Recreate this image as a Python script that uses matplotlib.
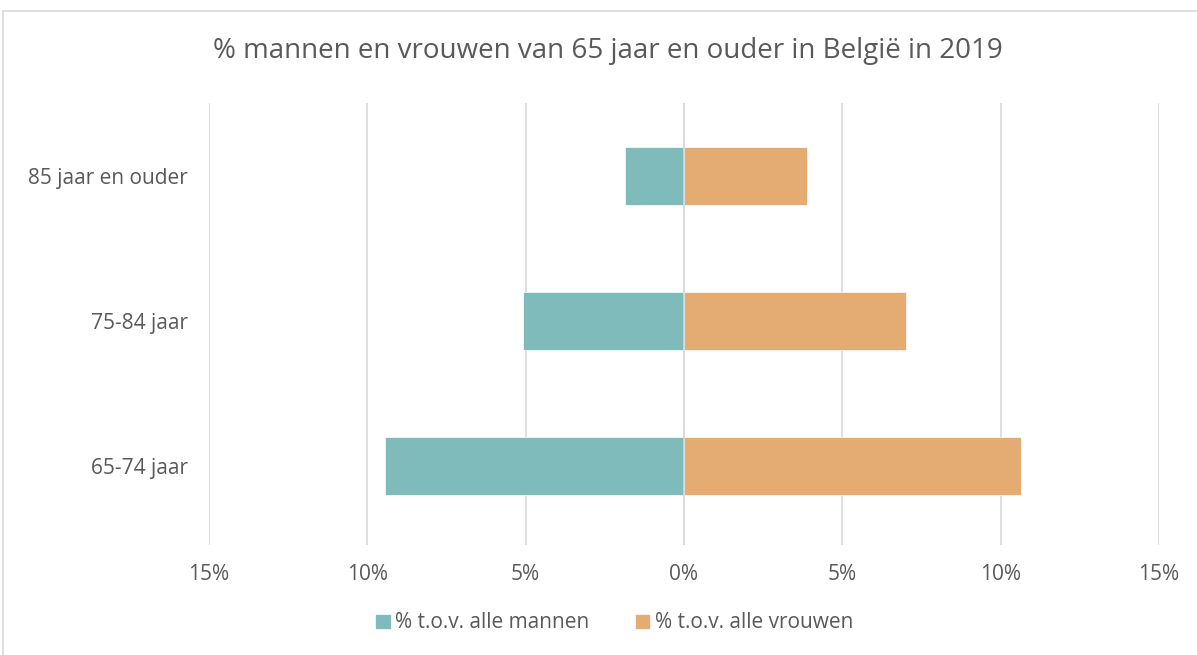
import matplotlib.pyplot as plt
from matplotlib.patches import Rectangle
from matplotlib.ticker import FuncFormatter

# Data
categories = ["65-74 jaar", "75-84 jaar", "85 jaar en ouder"]
mannen = [9.45, 5.1, 1.86]
vrouwen = [10.63, 7.01, 3.88]
ticks = [-15, -10, -5, 0, 5, 10, 15]

plt.rcParams['font.family'] = ['Open Sans', 'DejaVu Sans']
text_color = '#595959'

fig = plt.figure(figsize=(11.97, 6.55), dpi=100)
ax = fig.add_axes([209 / 1197, 1 - 545 / 655, (1159 - 209) / 1197, (545 - 103) / 655])

y = range(len(categories))
ax.barh(y, [-m for m in mannen], height=0.4, color='#7fbbbb', edgecolor='white',
        linewidth=0.5, label='% t.o.v. alle mannen', zorder=3)
ax.barh(y, vrouwen, height=0.4, color='#e4ab72', edgecolor='white',
        linewidth=0.5, label='% t.o.v. alle vrouwen', zorder=3)

ax.set_xlim(-15, 15)
ax.set_ylim(-0.545, 2.503)
ax.set_xticks(ticks)
ax.xaxis.set_major_formatter(FuncFormatter(lambda v, p: f"{abs(int(v))}%"))
ax.set_yticks(list(y))
ax.set_yticklabels(categories)
ax.grid(axis='x', color='#d9d9d9', linewidth=1.2, zorder=0)
ax.axvline(0, color='#d9d9d9', linewidth=1.2, zorder=4)
for s in ax.spines.values():
    s.set_visible(False)
ax.tick_params(length=0, labelsize=15, colors=text_color)
ax.tick_params(axis='x', pad=14)
ax.tick_params(axis='y', pad=15)

fig.text(0.508, 1 - 51 / 655, "% mannen en vrouwen van 65 jaar en ouder in België in 2019",
         ha='center', va='center', fontsize=20, color=text_color)

fig.legend(loc='center', bbox_to_anchor=(614 / 1197, 1 - 623 / 655), ncol=2, frameon=False,
           fontsize=15, labelcolor=text_color, handlelength=0.75, handleheight=0.75,
           handletextpad=0.2, columnspacing=2.2)

fig.patches.append(Rectangle((3 / 1197, -0.1), 1.2, 1 - 11 / 655 + 0.1, transform=fig.transFigure,
                             fill=False, edgecolor='#d9d9d9', linewidth=1.2))

plt.savefig('out.png', dpi=100)
